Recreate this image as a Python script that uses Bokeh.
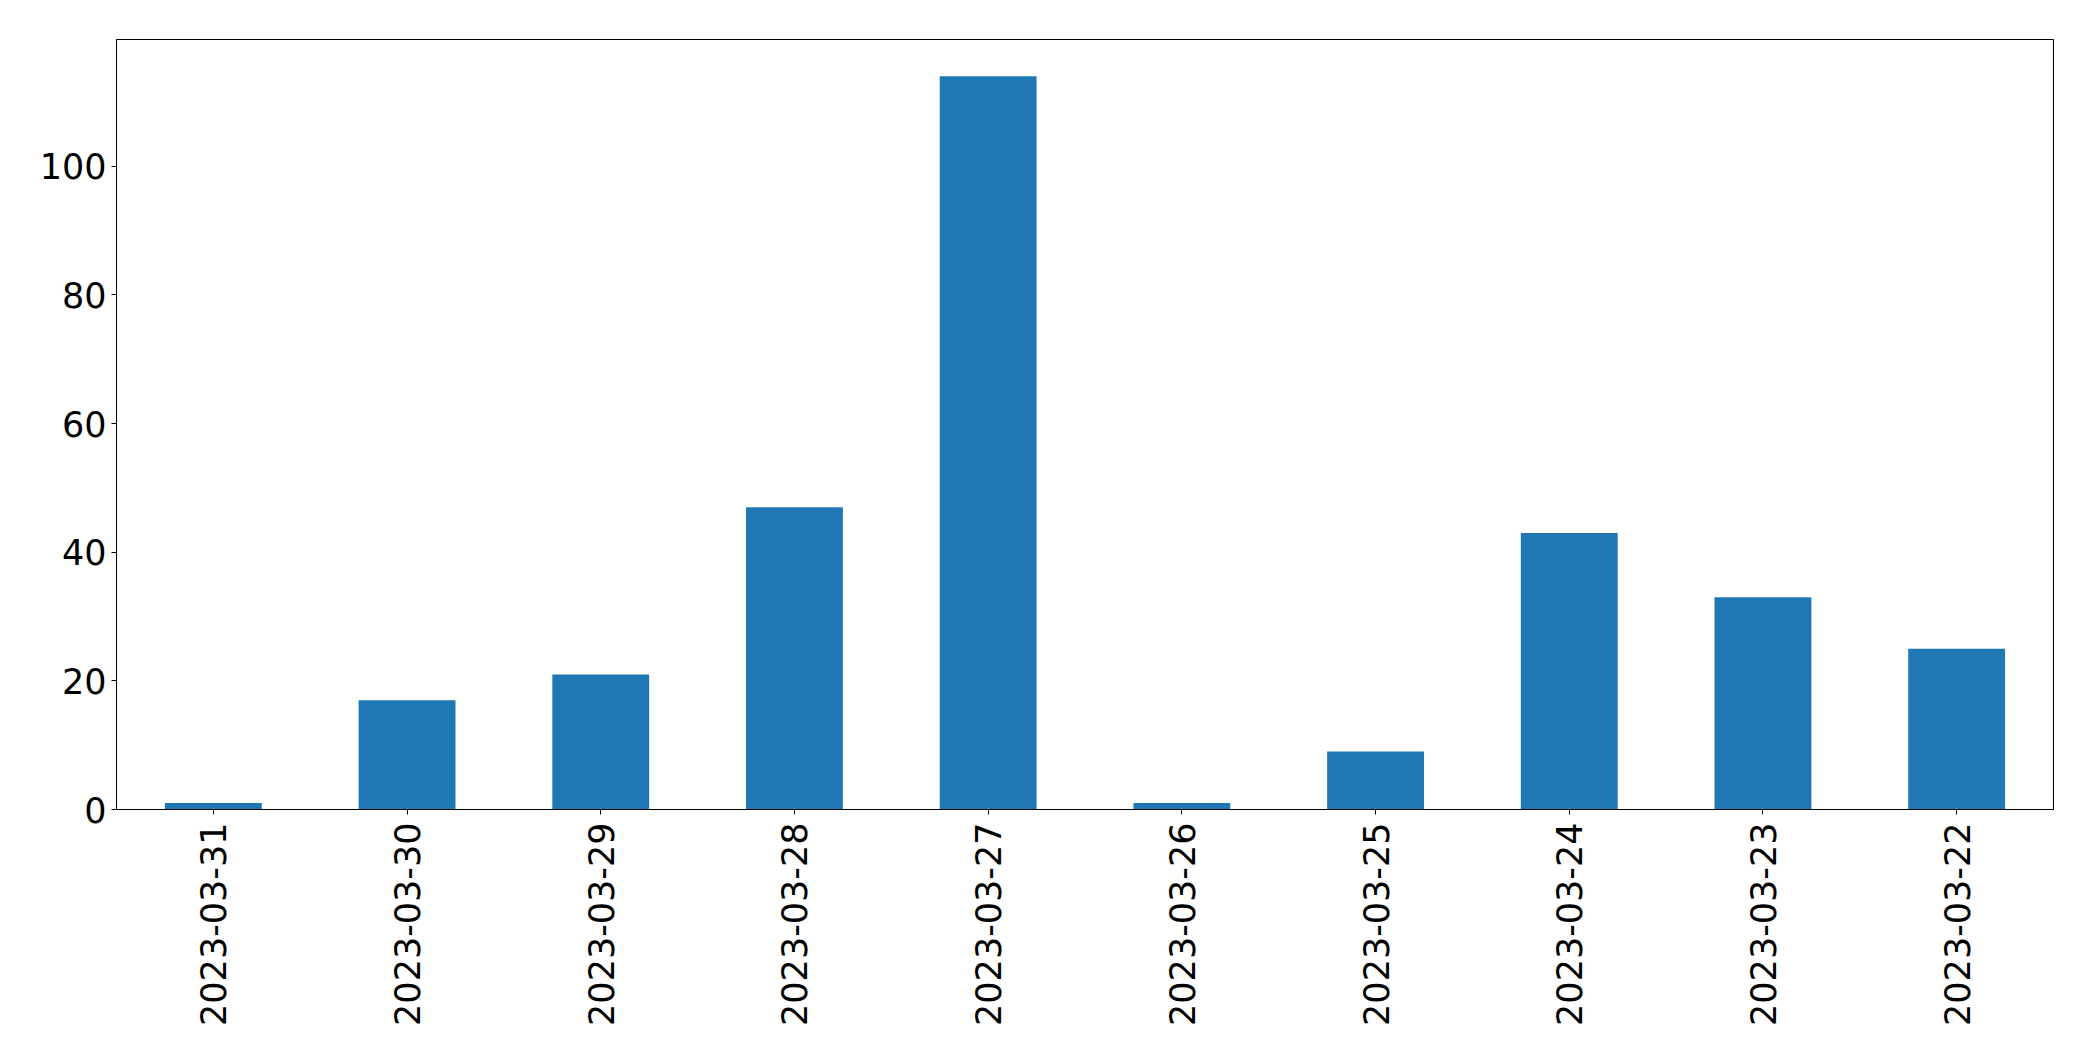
import math
from bokeh.plotting import figure
from bokeh.models import FactorRange, Range1d, FixedTicker, ColumnDataSource
from bokeh.embed import file_html
from bokeh.resources import INLINE

dates = ["2023-03-31", "2023-03-30", "2023-03-29", "2023-03-28", "2023-03-27",
         "2023-03-26", "2023-03-25", "2023-03-24", "2023-03-23", "2023-03-22"]
counts = [1, 17, 21, 47, 114, 1, 9, 43, 33, 25]
y_ticks = [0, 20, 40, 60, 80, 100]

W, H = 2076, 1044
p = figure(width=W, height=H, output_backend="svg", toolbar_location=None,
           x_range=FactorRange(factors=dates, range_padding=0),
           y_range=Range1d(0, max(counts) * 1.05),
           min_border_left=116, min_border_top=39,
           min_border_right=W - 2053, min_border_bottom=H - 809)

src = ColumnDataSource(dict(x=dates, top=counts))
p.vbar(x="x", top="top", width=0.5, bottom=0, source=src,
       fill_color="#1f77b4", line_color=None)

p.xgrid.visible = False
p.ygrid.visible = False
p.outline_line_color = "black"
p.outline_line_width = 1
p.outline_line_alpha = 1
p.background_fill_color = "white"
p.border_fill_color = "white"

p.yaxis.ticker = FixedTicker(ticks=y_ticks)
for ax in (p.xaxis[0], p.yaxis[0]):
    ax.axis_line_color = "black"
    ax.axis_line_width = 1
    ax.major_tick_line_color = "black"
    ax.major_tick_line_width = 1
    ax.major_tick_out = 5
    ax.major_tick_in = 0
    ax.minor_tick_line_color = None
    ax.major_label_text_font = "DejaVu Sans"
    ax.major_label_text_font_size = "35px"
    ax.major_label_text_color = "black"

p.yaxis.major_label_standoff = 5
p.xaxis.major_label_standoff = 8
p.xaxis.major_label_orientation = math.pi / 2

open("out.html", "w").write(file_html(p, INLINE))
